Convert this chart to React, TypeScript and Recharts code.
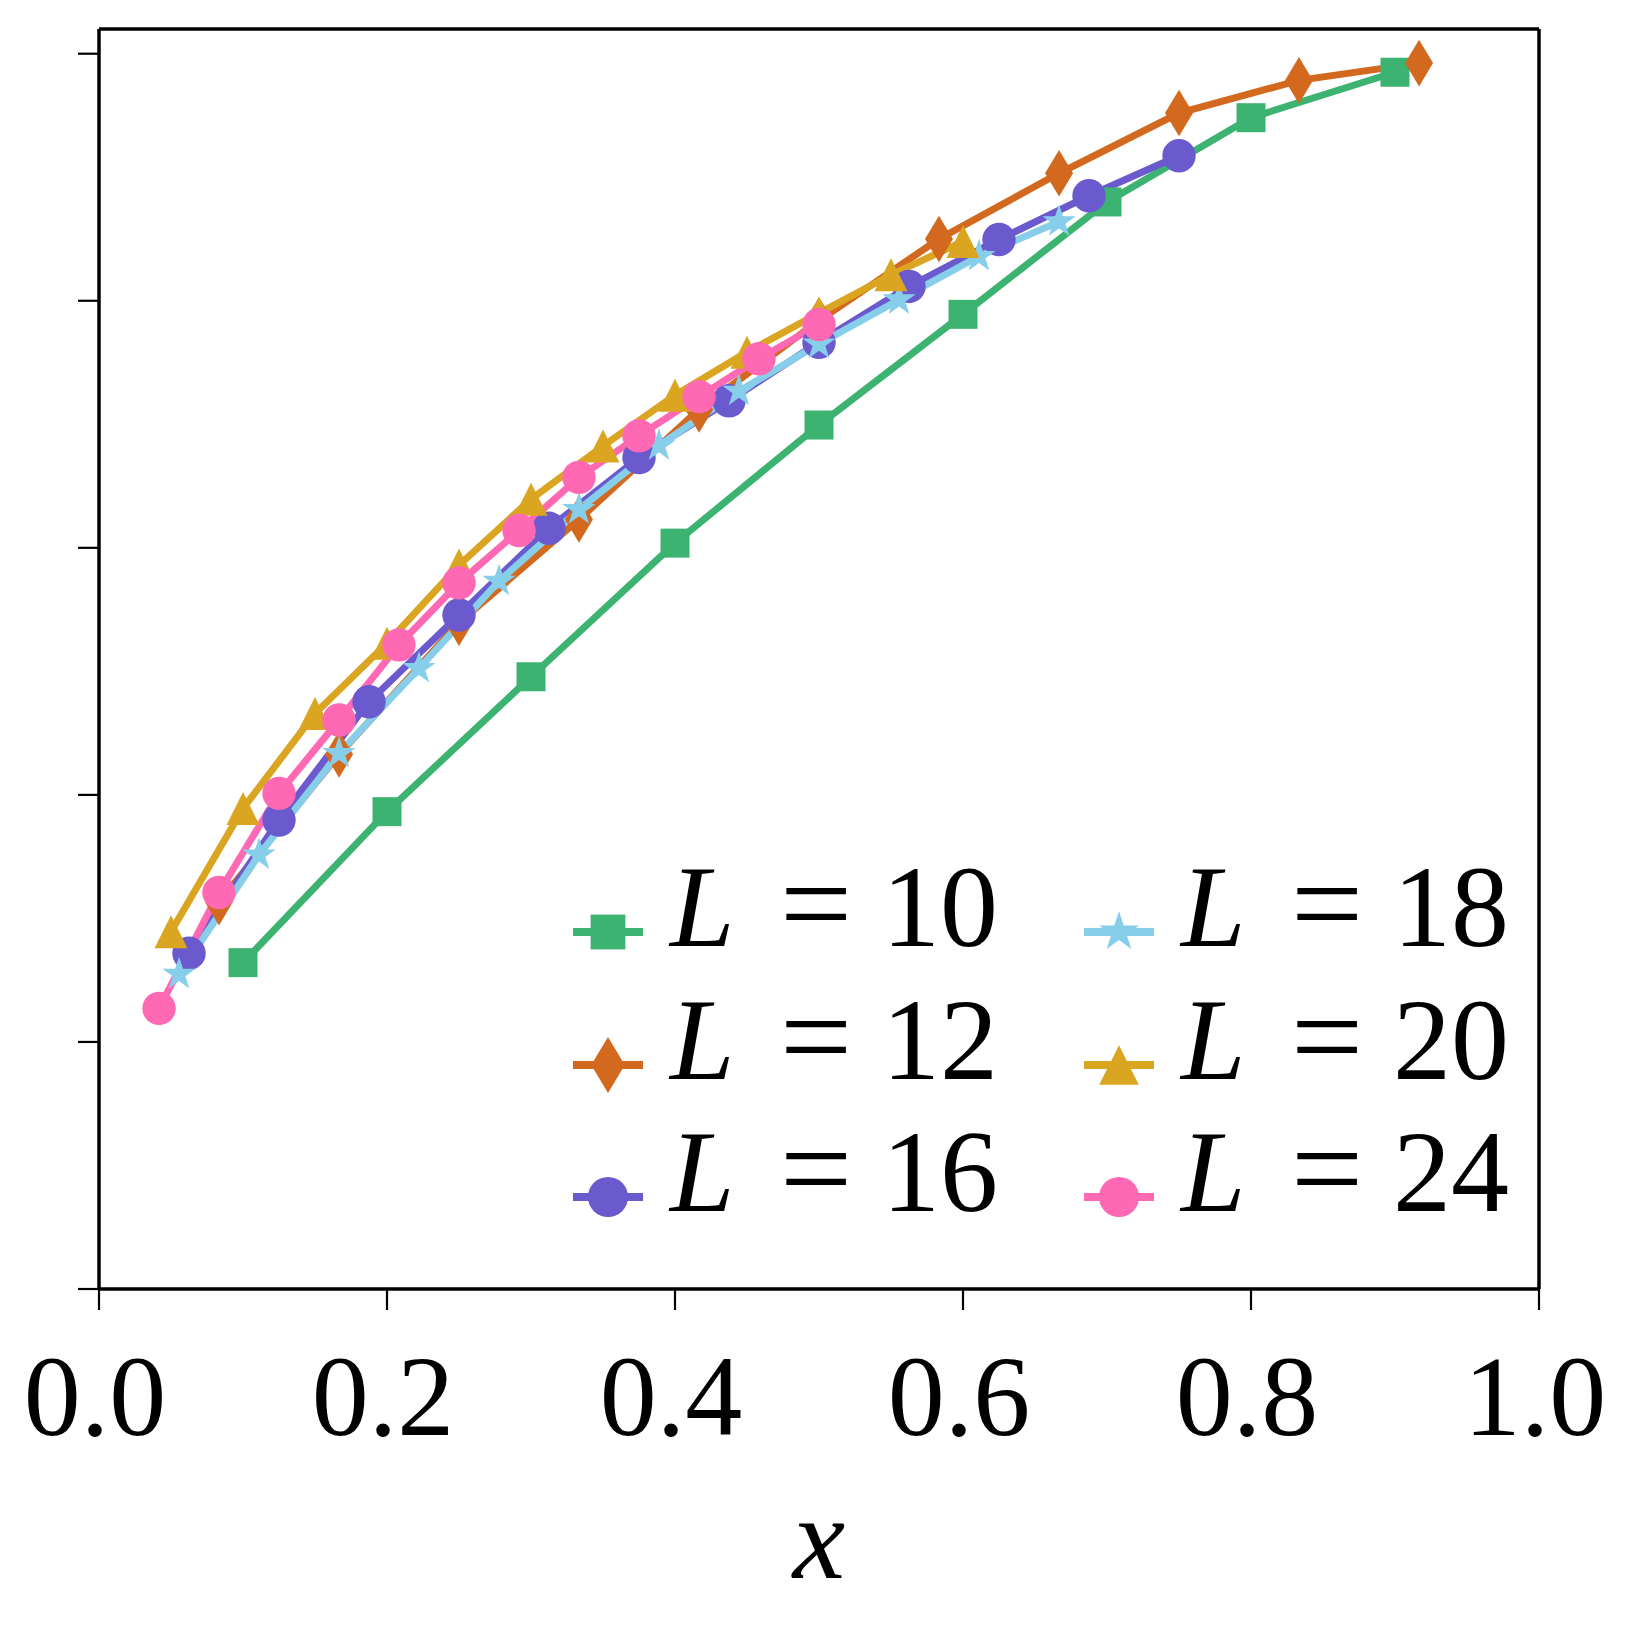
import React from "react";
import { LineChart, Line, XAxis, YAxis, Legend, ReferenceLine } from "recharts";

const W = 1638;
const H = 1632;
const FONT = "Liberation Serif";

const x10 = [0.1, 0.2, 0.3, 0.4, 0.5, 0.6, 0.7, 0.8, 0.9];
const y10 = [1.321, 1.932, 2.478, 3.019, 3.497, 3.945, 4.4, 4.741, 4.925];

const x12 = [0.0833, 0.1667, 0.25, 0.3333, 0.4167, 0.5, 0.5833, 0.6667, 0.75, 0.8333, 0.9167];
const y12 = [1.566, 2.164, 2.697, 3.115, 3.56, 3.92, 4.25, 4.516, 4.76, 4.892, 4.962];

const x16 = [0.0625, 0.125, 0.1875, 0.25, 0.3125, 0.375, 0.4375, 0.5, 0.5625, 0.625, 0.6875, 0.75];
const y16 = [1.359, 1.898, 2.377, 2.728, 3.079, 3.365, 3.595, 3.832, 4.058, 4.248, 4.425, 4.587];

const x18 = [0.0556, 0.1111, 0.1667, 0.2222, 0.2778, 0.3333, 0.3889, 0.4444, 0.5, 0.5556, 0.6111, 0.6667];
const y18 = [1.274, 1.757, 2.168, 2.512, 2.865, 3.155, 3.414, 3.634, 3.825, 4.004, 4.18, 4.32];

const x20 = [0.05, 0.1, 0.15, 0.2, 0.25, 0.3, 0.35, 0.4, 0.45, 0.5, 0.55, 0.6];
const y20 = [1.446, 1.945, 2.329, 2.614, 2.93, 3.197, 3.412, 3.618, 3.792, 3.95, 4.105, 4.24];

const x24 = [0.0417, 0.0833, 0.125, 0.1667, 0.2083, 0.25, 0.2917, 0.3333, 0.375, 0.4167, 0.4583, 0.5];
const y24 = [1.136, 1.605, 2.006, 2.303, 2.607, 2.858, 3.07, 3.285, 3.453, 3.612, 3.765, 3.904];

const xTicks = [0, 0.2, 0.4, 0.6, 0.8, 1.0];
const yTicks = [0, 1, 2, 3, 4, 5];
const X_MAX = 1;
const Y_MAX = 5.1;

const zip = (xs: number[], ys: number[]) => xs.map((x, i) => ({ x, y: ys[i] }));

type Shape = "square" | "diamond" | "circle" | "star" | "triangle";

const series: { L: number; color: string; shape: Shape; data: { x: number; y: number }[] }[] = [
  { L: 10, color: "#3CB371", shape: "square", data: zip(x10, y10) },
  { L: 12, color: "#D2691E", shape: "diamond", data: zip(x12, y12) },
  { L: 16, color: "#6A5ACD", shape: "circle", data: zip(x16, y16) },
  { L: 18, color: "#87CEEB", shape: "star", data: zip(x18, y18) },
  { L: 20, color: "#DAA520", shape: "triangle", data: zip(x20, y20) },
  { L: 24, color: "#FF69B4", shape: "circle", data: zip(x24, y24) },
];

function Marker({ shape, cx, cy, color, scale = 1 }: { shape: Shape; cx: number; cy: number; color: string; scale?: number }) {
  if (cx == null || cy == null) return <g />;
  if (shape === "square") {
    const s = 14.5 * scale;
    return <rect x={cx - s} y={cy - s} width={2 * s} height={2 * s} fill={color} />;
  }
  if (shape === "diamond") {
    const hw = 14 * scale;
    const hh = 23.3 * scale;
    return <polygon points={`${cx},${cy - hh} ${cx + hw},${cy} ${cx},${cy + hh} ${cx - hw},${cy}`} fill={color} />;
  }
  if (shape === "triangle") {
    const h = 16.5 * scale;
    return <polygon points={`${cx},${cy - h} ${cx + h},${cy + h} ${cx - h},${cy + h}`} fill={color} />;
  }
  if (shape === "star") {
    const R = 17.5 * scale;
    const r = R * 0.382;
    const pts: string[] = [];
    for (let i = 0; i < 10; i++) {
      const a = -Math.PI / 2 + (i * Math.PI) / 5;
      const rr = i % 2 === 0 ? R : r;
      pts.push(`${cx + rr * Math.cos(a)},${cy + rr * Math.sin(a)}`);
    }
    return <polygon points={pts.join(" ")} fill={color} />;
  }
  return <circle cx={cx} cy={cy} r={16.7 * scale} fill={color} />;
}

const XTick = (props: any) => {
  const { x, y, payload } = props;
  return (
    <text x={x - 4} y={y + 125} textAnchor="middle" fontSize={114} fontFamily={FONT} fill="#000">
      {Number(payload.value).toFixed(1)}
    </text>
  );
};

// y axis has tick marks but no labels
const NoLabel = () => <g />;

// legend: two columns filled column-wise, like matplotlib ncol=2
const legendRows = [932, 1065, 1197];
const legendCols = [608, 1119];

const renderLegend = () => (
  <svg width={W} height={H} style={{ position: "absolute", left: 0, top: 0 }}>
    {series.map((s, i) => {
      const hx = legendCols[Math.floor(i / 3)];
      const my = legendRows[i % 3];
      const base = my + 14;
      return (
        <g key={s.L}>
          <line x1={hx - 35} x2={hx + 35} y1={my} y2={my} stroke={s.color} strokeWidth={8} />
          <Marker shape={s.shape} cx={hx} cy={my} color={s.color} scale={1.2} />
          <text x={hx + 62} y={base} fontSize={116} fontFamily={FONT} fontStyle="italic" fill="#000">L</text>
          <text x={hx + 208} y={base} fontSize={128} fontFamily={FONT} textAnchor="middle" fill="#000">=</text>
          <text x={hx + 390} y={base} fontSize={116} fontFamily={FONT} textAnchor="end" fill="#000">{s.L}</text>
        </g>
      );
    })}
  </svg>
);

export default function App() {
  return (
    <div style={{ position: "absolute", left: 0, top: 0, width: W, height: H, background: "#fff" }}>
      <LineChart width={W} height={H} margin={{ top: 29, right: 99, left: 0, bottom: 0 }}>
        <XAxis
          dataKey="x"
          type="number"
          domain={[0, X_MAX]}
          ticks={xTicks}
          interval={0}
          height={343}
          stroke="#000"
          strokeWidth={3.5}
          axisLine={{ stroke: "#000", strokeWidth: 3.5 }}
          tickLine={{ stroke: "#000", strokeWidth: 2.2 }}
          tickSize={21}
          tickMargin={0}
          tick={<XTick />}
          label={{ value: "x", position: "insideBottom", offset: 54, fontSize: 118, fontStyle: "italic", fontFamily: FONT, fill: "#000" }}
        />
        <YAxis
          type="number"
          domain={[0, Y_MAX]}
          ticks={yTicks}
          interval={0}
          width={99}
          stroke="#000"
          strokeWidth={3.5}
          axisLine={{ stroke: "#000", strokeWidth: 3.5 }}
          tickLine={{ stroke: "#000", strokeWidth: 2.2 }}
          tickSize={21}
          tick={<NoLabel />}
        />
        <ReferenceLine y={Y_MAX} stroke="#000" strokeWidth={3.5} />
        <ReferenceLine x={X_MAX} stroke="#000" strokeWidth={3.5} />
        {series.map((s) => (
          <Line
            key={s.L}
            data={s.data}
            dataKey="y"
            type="linear"
            stroke={s.color}
            strokeWidth={7}
            isAnimationActive={false}
            activeDot={false}
            dot={(p: any) => <Marker key={`${s.L}-${p.index}`} shape={s.shape} cx={p.cx} cy={p.cy} color={s.color} />}
          />
        ))}
        <Legend
          content={renderLegend}
          layout="horizontal"
          verticalAlign="middle"
          align="center"
          wrapperStyle={{ left: 0, top: 0, width: W, height: H, pointerEvents: "none" }}
        />
      </LineChart>
    </div>
  );
}
